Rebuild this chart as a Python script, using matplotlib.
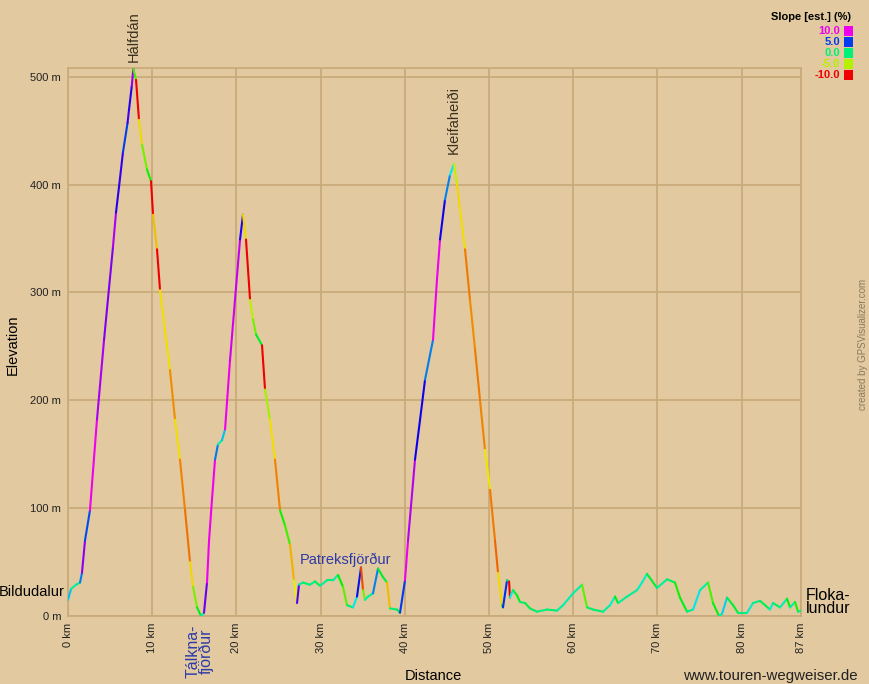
import colorsys
from matplotlib import pyplot as plt
from matplotlib.collections import LineCollection
import numpy as np

plt.rcParams['font.family'] = ['Liberation Sans', 'DejaVu Sans']

# profile: distance (km), elevation (m)
dist_km = [0.0, 0.36, 0.95, 1.43, 1.66, 2.02, 2.61, 3.44, 4.28, 5.34, 5.70, 6.06, 6.53,
           7.07, 7.24, 7.57, 7.76, 8.08, 8.43, 8.79, 9.38, 9.86, 10.10, 10.57, 10.93,
           11.52, 12.11, 12.71, 13.30, 13.90, 14.49, 14.85, 15.32, 15.80, 16.15, 16.51,
           16.75, 17.10, 17.46, 17.81, 18.29, 18.65, 19.24, 19.83, 20.43, 20.78, 21.14,
           21.62, 21.97, 22.33, 23.04, 23.40, 23.99, 24.58, 25.18, 25.77, 26.37, 26.84,
           27.20, 27.43, 27.91, 28.74, 29.33, 29.93, 30.76, 31.47, 32.07, 32.66, 33.14,
           33.85, 34.32, 34.80, 35.04, 35.27, 35.63, 36.22, 36.82, 37.41, 37.89, 38.24,
           39.07, 39.43, 40.02, 40.38, 41.21, 41.81, 42.40, 42.99, 43.35, 43.82, 44.18,
           44.77, 45.37, 45.84, 46.20, 46.56, 47.15, 47.74, 48.34, 48.93, 49.52, 50.12,
           50.71, 51.07, 51.54, 51.66, 52.14, 52.38, 52.49, 52.85, 53.33, 53.68, 54.28,
           54.87, 55.70, 56.89, 58.08, 58.79, 59.98, 61.05, 61.64, 62.35, 63.54, 64.37,
           64.96, 65.32, 66.39, 67.58, 68.17, 68.76, 69.95, 71.14, 72.09, 72.68, 73.52,
           74.23, 75.06, 76.01, 76.60, 77.32, 77.67, 78.27, 78.98, 79.57, 80.64, 81.35,
           82.19, 82.78, 83.37, 83.73, 84.56, 85.39, 85.75, 86.34, 86.70, 87.05]
elev_m = [15, 25, 29, 31, 40, 70, 98, 182, 256, 342, 374, 398, 430,
          457, 469, 491, 507, 497, 460, 437, 414, 403, 372, 340, 302,
          265, 228, 182, 145, 98, 50, 27, 8, 0, 3, 31,
          70, 108, 145, 159, 163, 173, 237, 293, 349, 372, 349,
          293, 275, 261, 251, 210, 182, 145, 98, 84, 66, 33,
          12, 29, 31, 29, 32, 28, 33, 33, 38, 27, 10,
          8, 18, 45, 24, 15, 18, 21, 44, 36, 31, 7,
          6, 3, 33, 70, 145, 182, 219, 242, 256, 312, 349,
          386, 409, 419, 400, 377, 340, 293, 247, 200, 154, 117,
          70, 40, 10, 8, 33, 32, 17, 24, 19, 13, 12,
          7, 4, 6, 5, 10, 21, 29, 8, 6, 4, 10,
          18, 12, 18, 24, 31, 39, 26, 34, 31, 17, 4,
          6, 24, 31, 12, 0, 2, 17, 10, 3, 3, 12,
          14, 10, 6, 12, 8, 16, 8, 13, 4, 5]

xticks = [0, 10, 20, 30, 40, 50, 60, 70, 80, 87]
yticks = [0, 100, 200, 300, 400, 500]
legend_vals = [10.0, 5.0, 0.0, -5.0, -10.0]

bg = '#e2c99f'
grid_c = '#c9ab7b'


def slope_color(s):
    s = max(-10, min(10, s))
    h = (s + 10) / 20 * 300 / 360
    return colorsys.hsv_to_rgb(h, 1.0, 0.94)


fig = plt.figure(figsize=(8.69, 6.84), dpi=100, facecolor=bg)
ax = fig.add_axes([68 / 869, 68 / 684, 733 / 869, 548 / 684], facecolor=bg)

x = np.array(dist_km)
y = np.array(elev_m)
pts = np.column_stack([x, y])
segs = np.stack([pts[:-1], pts[1:]], axis=1)
slopes = np.diff(y) / (np.diff(x) * 1000) * 100
lc = LineCollection(segs, colors=[slope_color(s) for s in slopes], linewidth=1.5,
                    capstyle='round', zorder=3)
ax.add_collection(lc)

ax.set_xlim(0, 87.05)
ax.set_ylim(0, 508)
ax.set_xticks(xticks)
ax.set_xticklabels([f'{v} km' for v in xticks], rotation=90, fontsize=8)
ax.set_yticks(yticks)
ax.set_yticklabels([f'{v} m' for v in yticks], fontsize=8)
ax.tick_params(length=0, pad=5, colors='#222222')
ax.grid(True, color=grid_c, linewidth=1.3, zorder=0)
for sp in ax.spines.values():
    sp.set_color(grid_c)
    sp.set_linewidth(1.3)

fig.text(13 / 869, 1 - 345 / 684, 'Elevation', rotation=90, ha='center', va='center',
         fontsize=10.5)
fig.text(433 / 869, 1 - 676 / 684, 'Distance', ha='center', va='center', fontsize=10.5)

# place names
txt_c = '#3a3020'
blue = '#2c3aa8'
ax.text(7.76, 514, 'Hálfdán', rotation=90, ha='center', va='bottom', fontsize=10.5,
        color=txt_c, clip_on=False)
ax.text(45.84, 428, 'Kleifaheiði', rotation=90, ha='center', va='bottom', fontsize=10.5,
        color=txt_c)
ax.text(-0.35, 22, 'Bildudalur', ha='right', va='center', fontsize=10.5, color='black',
        clip_on=False)
ax.text(87.6, 13, 'Floka-\nlundur', ha='left', va='center', fontsize=11.5, color='black',
        linespacing=0.85, clip_on=False)
ax.text(15.6, -8, 'Tálkna-\nfjörður', rotation=90, ha='center', va='top', fontsize=11.5,
        color=blue, linespacing=0.85, clip_on=False)
ax.text(33.0, 52, 'Patreksfjörður', ha='center', va='center', fontsize=10.5, color=blue)

# slope legend
fig.text(851 / 869, 1 - 17 / 684, 'Slope [est.] (%)', ha='right', va='center',
         fontsize=8, fontweight='bold')
for i, v in enumerate(legend_vals):
    yy = 1 - (31 + i * 11) / 684
    c = slope_color(v)
    fig.text(840 / 869, yy, f'{v:.1f}', ha='right', va='center', fontsize=8,
             fontweight='bold', color=c)
    fig.patches.append(plt.Rectangle((844 / 869, yy - 4.5 / 684), 9 / 869, 9 / 684,
                                     transform=fig.transFigure, facecolor=c,
                                     edgecolor='none'))

fig.text(863 / 869, 340 / 684, 'created by GPSVisualizer.com', rotation=90, ha='center',
         va='center', fontsize=7, color='#8a7a60')
fig.text(858 / 869, 1 - 676 / 684, 'www.touren-wegweiser.de', ha='right', va='center',
         fontsize=10.8, color='#222222')

fig.savefig('out.png', dpi=100, facecolor=bg)
